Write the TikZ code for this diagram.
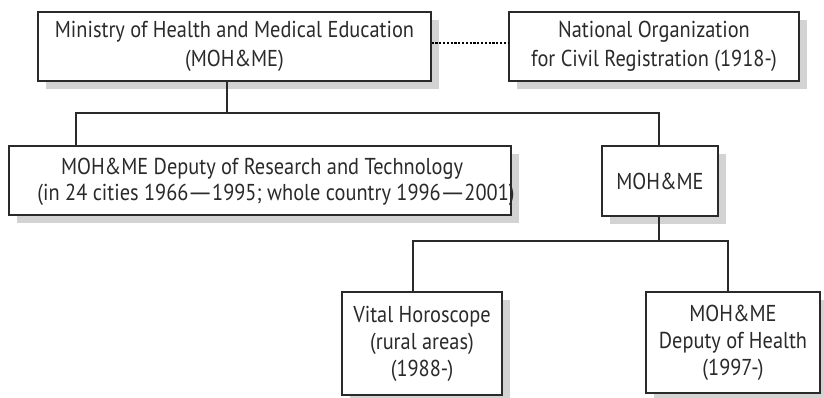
\documentclass[tikz,border=0pt]{standalone}
\usepackage{fontspec}
\setmainfont{PT Sans}[FakeStretch=0.885]
\usetikzlibrary{shadows}
\definecolor{ink}{HTML}{2A2A2A}
\definecolor{shade}{HTML}{D3D3D3}
\newcommand{\emd}{\kern-1.5pt\scalebox{1.6}[1]{\textemdash}\kern-1.5pt}
\tikzset{
  box/.style={draw=ink, line width=1.2pt, fill=white, inner sep=0pt, anchor=center,
    drop shadow={shadow xshift=8pt, shadow yshift=-8pt, fill=shade, opacity=1},
    align=center, text=ink, font=\fontsize{23}{27}\selectfont},
  toprow/.style={font=\fontsize{23}{29}\selectfont},
  txt/.style={inner sep=0pt, align=center, text=ink, font=\fontsize{23}{26.6}\selectfont},
  link/.style={draw=ink, line width=1.1pt},
  dotlink/.style={draw=black, line width=2.2pt, dash pattern=on 2.2pt off 1.6pt}
}
\begin{document}
\begin{tikzpicture}[x=1pt, y=-1pt]
\useasboundingbox (0,0) rectangle (824,398);
% boxes
\node[box, toprow, minimum width=393pt, minimum height=69pt] (min) at (234.5,46.5)
  {Ministry of Health and Medical Education\\(MOH\&ME)};
\node[box, toprow, minimum width=290pt, minimum height=69pt] (nocr) at (654,46.5)
  {National Organization\\for Civil Registration (1918-)};
\node[box, minimum width=502pt, minimum height=69pt] (res) at (260,180.5) {};
\node[txt] (restxt) at (262,182)
  {MOH\&ME Deputy of Research and Technology\\\hspace*{28pt}(in 24 cities 1966\emd1995; whole country 1996\emd2001)};
\node[box, minimum width=116pt, minimum height=70pt] (moh) at (660,181) {MOH\&ME};
\node[box, minimum width=160pt, minimum height=103pt] (vh) at (422,343.5)
  {Vital Horoscope\\(rural areas)\\(1988-)};
\node[box, minimum width=174pt, minimum height=101pt] (dh) at (733,342.5)
  {MOH\&ME\\Deputy of Health\\(1997-)};
% junction points
\coordinate (t1) at (227,113);
\coordinate (t2) at (76,113);
\coordinate (t3) at (659,113);
\coordinate (u1) at (659,241);
\coordinate (u2) at (413,241);
\coordinate (u3) at (728,241);
\coordinate (d1) at (0,43);
% connectors
\draw[link] (min.south -| t1) -- (t1);
\draw[link] (res.north -| t2) -- (t2) -- (t3) -- (moh.north -| t3);
\draw[link] (moh.south -| u1) -- (u1);
\draw[link] (vh.north -| u2) -- (u2) -- (u3) -- (dh.north -| u3);
\draw[dotlink] (min.east |- d1) -- (nocr.west |- d1);
\end{tikzpicture}
\end{document}
